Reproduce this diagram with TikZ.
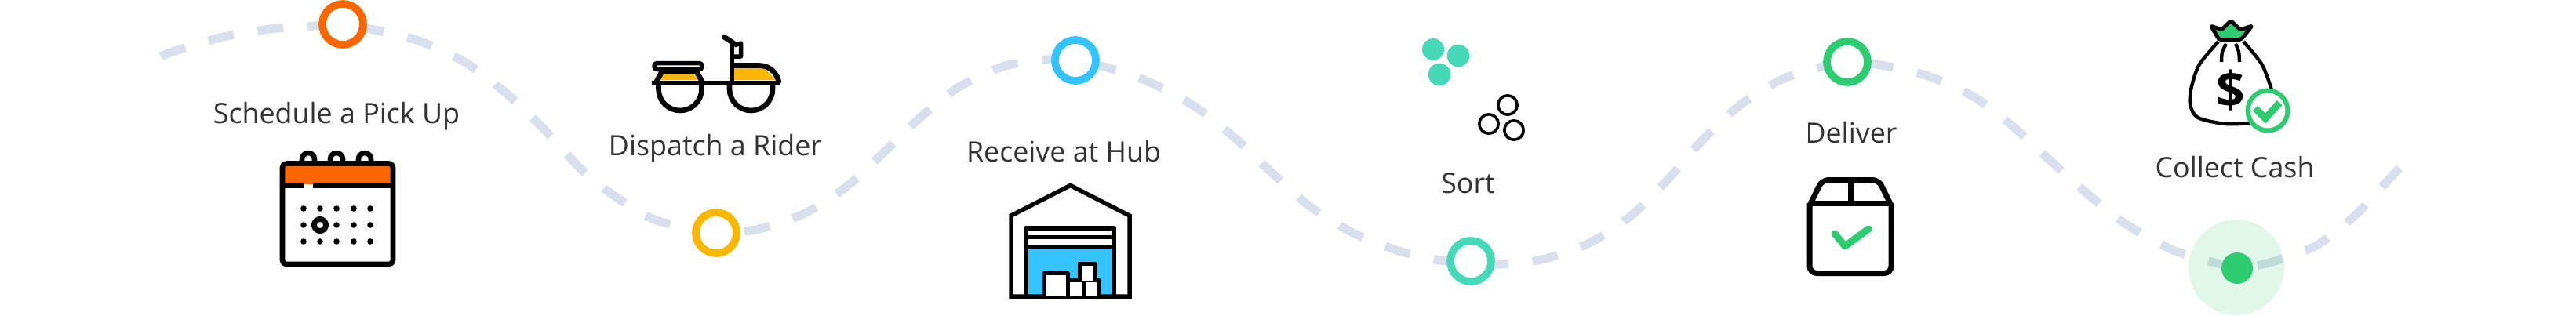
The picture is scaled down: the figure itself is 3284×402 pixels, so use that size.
\documentclass[tikz,border=0pt]{standalone}
\usepackage{fontspec}
\setmainfont{Open Sans}
\usetikzlibrary{backgrounds}
\definecolor{trail}{HTML}{D9DFEC}
\definecolor{cOrange}{HTML}{FC6600}
\definecolor{cAmber}{HTML}{F9B700}
\definecolor{cBlue}{HTML}{33C3FF}
\definecolor{cTeal}{HTML}{46D9B8}
\definecolor{cGreen}{HTML}{2ECC71}
\definecolor{ink}{HTML}{333333}
\tikzset{
  ring/.style={circle,draw=#1,line width=9.7pt,fill=white,minimum size=52pt,inner sep=0pt,outer sep=0pt},
  steplabel/.style={anchor=base,text=ink,inner sep=0pt,font=\fontsize{35.8}{40}\selectfont},
  trailpath/.style={draw=trail,line width=11pt,dash pattern=on 33pt off 31pt,dash phase=#1pt},
  icon/.style={draw=black,line width=6.6pt,line join=round},
  check/.style={draw=cGreen,line width=9pt,line cap=round,line join=round},
}
\begin{document}
\begin{tikzpicture}[x=1pt,y=-1pt]
\useasboundingbox (0,0) rectangle (3284,402);
% stop markers
\node[ring=cOrange] (c1) at (437,31) {};
\node[ring=cAmber] (c2) at (913,297) {};
\node[ring=cBlue] (c3) at (1371,77) {};
\node[ring=cTeal] (c4) at (1875,333) {};
\node[ring=cGreen] (c5) at (2355,79) {};
\coordinate (c6) at (2852,342);
\coordinate (c0) at (205,72);
\coordinate (c7) at (3060,213);
% trail
\begin{scope}[on background layer]
\draw[trailpath=0] plot[smooth] coordinates {(c0) (220,66) (281,48) (344,37) (400,33) (c1.center)};
\draw[trailpath=44] plot[smooth] coordinates {(c1.center) (477,38) (534,52) (592,79) (643,117) (690,161) (740,215) (782,249) (837,281) (c2.center)};
\draw[trailpath=28] plot[smooth] coordinates {(c2.center) (963,293) (1024,273) (1078,239) (1125,196) (1171,152) (1221,112) (1278,85) (1334,76) (c3.center)};
\draw[trailpath=44] plot[smooth] coordinates {(c3.center) (1411,86) (1466,105) (1522,135) (1572,174) (1619,218) (1667,261) (1721,295) (1780,319) (1835,332) (c4.center)};
\draw[trailpath=49] plot[smooth] coordinates {(c4.center) (1913,337) (1970,330) (2030,308) (2083,272) (2128,227) (2170,179) (2217,135) (2270,102) (2320,86) (c5.center)};
\draw[trailpath=38] plot[smooth] coordinates {(c5.center) (2398,83) (2458,97) (2517,124) (2567,162) (2614,205) (2662,248) (2712,287) (2768,318) (2820,334) (c6)};
\draw[trailpath=38] plot[smooth] coordinates {(c6) (2893,335) (2953,313) (3003,274) (3047,227) (c7)};
\end{scope}
% last stop
\fill[cGreen,opacity=.15] (2851,341) circle[radius=61pt];
\fill[cGreen] (c6) circle[radius=20pt];
% labels
\node[steplabel] (t1) at (429,157) {Schedule a Pick Up};
\node[steplabel] (t2) at (912,198) {Dispatch a Rider};
\node[steplabel] (t3) at (1356,206) {Receive at Hub};
\node[steplabel] (t4) at (1871.5,246) {Sort};
\node[steplabel] (t5) at (2360,182) {Deliver};
\node[steplabel] (t6) at (2849,226) {Collect Cash};
% calendar
\fill[white] (359,208) rectangle (501,337);
\fill[cOrange] (362,211) rectangle (498,235);
\foreach \x in {393,429,465}
  \draw[icon,fill=white] (\x-8,206) -- (\x-8,203) arc[start angle=180,end angle=0,radius=8pt] -- (\x+8,206);
\draw[icon,rounded corners=5pt] (360,208.5) rectangle (501,337);
\draw[icon] (360,237) -- (388,237) (399,237) -- (501,237);
\foreach \y in {266,287,308}
  \foreach \x in {387,408,429,451,472}
    \fill (\x,\y) circle[radius=3.8pt];
\fill[white] (408,287) circle[radius=9pt];
\draw[black,line width=7pt,fill=white] (408,287) circle[radius=7.5pt];
% scooter
\fill[cAmber] (840,102) -- (847,94) -- (885,94) -- (890,102) -- cycle;
\fill[cAmber] (936,85) -- (972,85) -- (990,102) -- (936,102) -- cycle;
\draw[icon] (831,106) -- (995,106);
\draw[icon] (839.5,106) -- (839.5,113.5) arc[start angle=180,end angle=360,radius=27.5pt] -- (894.5,106);
\draw[icon] (930,106) -- (930,113.5) arc[start angle=180,end angle=360,radius=27.5pt] -- (985,106);
\draw[icon] (837,104) -- (844,91) -- (888,91) -- (895,104);
\draw[icon,line width=5.5pt,rounded corners=3.5pt,fill=white] (834,80.5) rectangle (895,88.5);
\draw[icon] (933,106) -- (933,55);
\draw[icon,line cap=round] (923,47) -- (935,55);
\draw[icon,line width=5.5pt,fill=white] (936,58) -- (944.5,55) -- (944.5,72) -- (936,72);
\draw[icon] (933,83.5) -- (968,83.5) .. controls (982,83.5) and (992,95) .. (993,106);
% warehouse
\fill[cBlue] (1308,314) rectangle (1420,376);
\draw[icon,line width=5.5pt,line join=miter] (1289,378) -- (1289,275) -- (1364.5,236.5) -- (1440,275) -- (1440,378) -- cycle;
\draw[icon,line width=5.5pt] (1308,378) -- (1308,291) -- (1420,291) -- (1420,378);
\draw[icon,line width=5.5pt] (1308,302.5) -- (1420,302.5) (1308,314.5) -- (1420,314.5);
\draw[icon,line width=5pt,fill=white] (1331,378) -- (1331,348.5) -- (1361,348.5) -- (1361,378);
\draw[icon,line width=5pt,fill=white] (1361,378) -- (1361,357.5) -- (1401,357.5) -- (1401,378);
\draw[icon,line width=5pt] (1381,358) -- (1381,378);
\draw[icon,line width=5pt,fill=white] (1376,357.5) -- (1376,336.5) -- (1396,336.5) -- (1396,357.5);
% sort
\fill[cTeal] (1827,63) circle[radius=14pt] (1859,71) circle[radius=14.3pt] (1835,95) circle[radius=14.3pt];
\draw[black,line width=3.6pt] (1922,134) circle[radius=12.2pt] (1898,158) circle[radius=12.2pt] (1930,166) circle[radius=12.2pt];
% parcel
\draw[icon,line width=7pt,rounded corners=9pt] (2307,259) -- (2307,348.5) -- (2411,348.5) -- (2411,259);
\draw[icon,line width=7pt,rounded corners=8pt] (2307,262) -- (2323,229.5) -- (2395,229.5) -- (2411,262);
\draw[icon,line width=7pt] (2307,259) -- (2411,259) (2359,229.5) -- (2359,259);
\draw[check] (2339,298) -- (2352,314) -- (2382,292);
% money bag
\draw[icon,line width=4.4pt] plot[smooth,tension=.5] coordinates {(2828,53) (2804,82) (2794,110) (2792,133) (2802,150) (2837,158) (2872,157)};
\draw[icon,line width=4.4pt] plot[smooth,tension=.5] coordinates {(2860,53) (2884,83) (2897,118)};
\draw[icon,line width=4.4pt] plot[smooth] coordinates {(2832,79) (2833,66) (2838,56)};
\draw[icon,line width=4.4pt] plot[smooth] coordinates {(2855,79) (2854,66) (2850,56)};
\draw[icon,line width=4.8pt,fill=cGreen,rounded corners=2pt] (2818.5,33) -- (2832,38) -- (2844,26.5) -- (2856,38) -- (2871,33) -- (2857,50.5) -- (2829,50.5) -- cycle;
\node[inner sep=0pt,font=\fontsize{64}{64}\selectfont\bfseries] (dollar) at (2844,115) {\$};
\draw[draw=cGreen,line width=6pt,fill=white] (2891,141) circle[radius=25.5pt];
\draw[draw=cGreen,line width=9pt,line join=miter] (2875,138) -- (2888,151) -- (2906,131);
\end{tikzpicture}
\end{document}
